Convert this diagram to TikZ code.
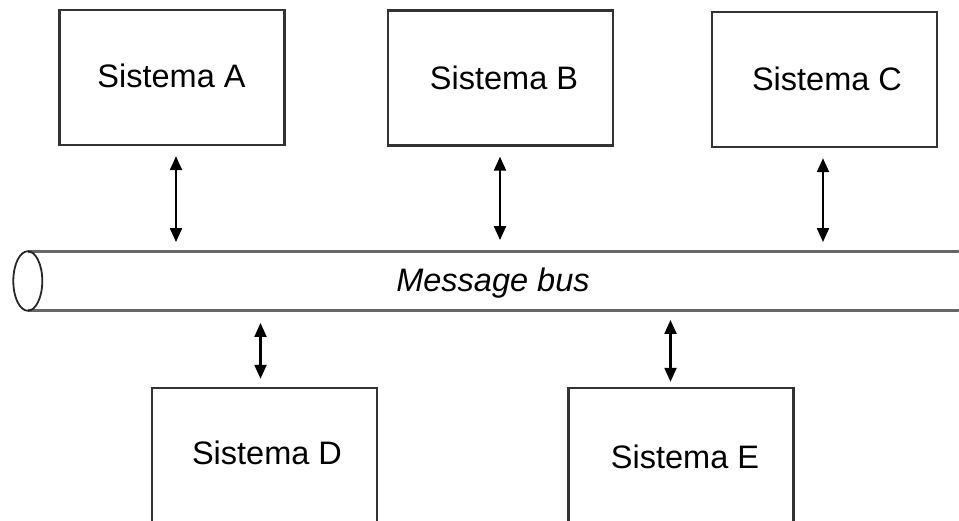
\documentclass[tikz,border=0pt]{standalone}
\usepackage{fontspec}
\setmainfont{Liberation Sans}
\usetikzlibrary{arrows.meta}

\definecolor{boxline}{HTML}{333333}
\definecolor{busline}{HTML}{666666}

\tikzset{
  sysbox/.style={draw=boxline, line width=2.4pt, inner sep=0pt, minimum width=225pt, minimum height=135pt},
  systext/.style={anchor=base, inner sep=0pt, font=\fontsize{32.5}{39}\selectfont},
  bustext/.style={anchor=base, inner sep=0pt, font=\fontsize{32.5}{39}\selectfont\itshape},
  biarrow/.style={line width=2.2pt, black, {Triangle[length=14pt,width=12pt]}-{Triangle[length=14pt,width=12pt]}},
  busedge/.style={draw=busline, line width=3pt},
  buscap/.style={draw=black!85, line width=1.8pt}
}

\begin{document}
\begin{tikzpicture}[x=1pt, y=-1pt]
  \useasboundingbox (0,0) rectangle (959,521);
  \clip (0,0) rectangle (959,521);

  % systems
  \node[sysbox] (A) at (172,77.5) {};
  \node[sysbox] (B) at (500.5,78) {};
  \node[sysbox] (C) at (824.5,79.5) {};
  \node[sysbox, minimum height=150pt] (D) at (264.5,463) {};
  \node[sysbox, minimum height=150pt] (E) at (681,463) {};

  \node[systext] (tA) at (171.5,88) {Sistema A};
  \node[systext] (tB) at (504,90) {Sistema B};
  \node[systext] (tC) at (827,91) {Sistema C};
  \node[systext] (tD) at (267,464) {Sistema D};
  \node[systext] (tE) at (685,468) {Sistema E};

  % message bus drawn as a horizontal cylinder
  \node[inner sep=0pt, minimum width=930pt, minimum height=59.5pt] (bus) at (493,281) {};
  \draw[busedge] (bus.north west) -- (bus.north east);
  \draw[busedge] (bus.south west) -- (bus.south east);
  \draw[busedge] (bus.north east) arc[start angle=90, end angle=-90, x radius=14pt, y radius=29.75pt];
  \draw[buscap] (bus.west) ellipse[x radius=14.5pt, y radius=29.75pt];
  \node[bustext] (tbus) at (493,292) {Message bus};

  % connector columns
  \coordinate (xa) at (176,0);
  \coordinate (xb) at (500,0);
  \coordinate (xc) at (823,0);
  \coordinate (xd) at (260.5,0);
  \coordinate (xe) at (670.5,0);

  \draw[biarrow] ([yshift=-10pt]A.south -| xa) -- ([yshift=9pt]bus.north -| xa);
  \draw[biarrow] ([yshift=-10pt]B.south -| xb) -- ([yshift=11pt]bus.north -| xb);
  \draw[biarrow] ([yshift=-10pt]C.south -| xc) -- ([yshift=9pt]bus.north -| xc);
  \draw[biarrow] ([yshift=-12pt]bus.south -| xd) -- ([yshift=8pt]D.north -| xd);
  \draw[biarrow] ([yshift=-9pt]bus.south -| xe) -- ([yshift=5pt]E.north -| xe);
\end{tikzpicture}
\end{document}
